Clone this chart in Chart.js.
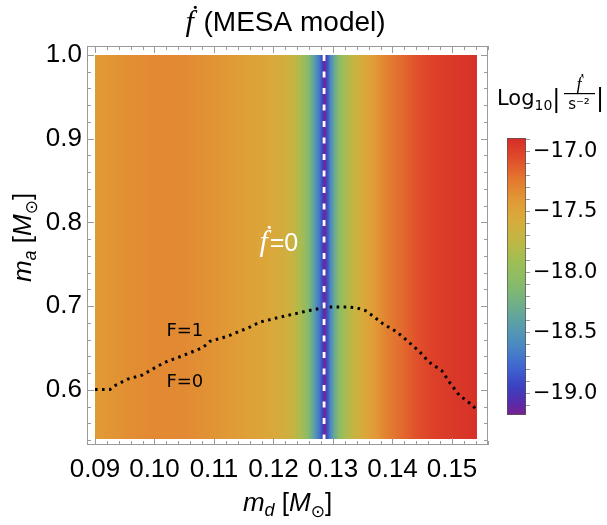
<!DOCTYPE html>
<html>
<head>
<meta charset="utf-8">
<script src="https://cdn.jsdelivr.net/npm/chart.js@4.4.1/dist/chart.umd.min.js"></script>
<style>
  html, body { margin: 0; padding: 0; background: #fff; }
  #wrap { position: relative; width: 607px; height: 525px; }
  #main { position: absolute; left: 0; top: 0; }
  #bar { position: absolute; left: 490px; top: 130px; }
</style>
</head>
<body>
<div id="wrap">
  <canvas id="main" width="607" height="525"></canvas>
  <canvas id="bar" width="117" height="300"></canvas>
</div>
<script>
// Log10|fdot| read across m_d (colour only varies with m_d)
const mdNodes = [0.0900, 0.0950, 0.1000, 0.1050, 0.1100, 0.1150, 0.1200, 0.1230, 0.1245, 0.1258,
  0.1268, 0.1277, 0.1283, 0.1286, 0.1290, 0.1296, 0.1303, 0.1311, 0.1320, 0.1335, 0.1350, 0.1370,
  0.1390, 0.1415, 0.1440, 0.1470, 0.1500, 0.1542];
const logF = [-17.42, -17.36, -17.32, -17.33, -17.38, -17.45, -17.54, -17.66, -17.85, -18.08,
  -18.40, -18.70, -18.95, -19.20, -18.90, -18.60, -18.30, -18.05, -17.88, -17.70, -17.56, -17.42,
  -17.28, -17.18, -17.08, -17.00, -16.96, -16.92];

// F=1 / F=0 boundary (dotted)
const boundaryMd = [0.0900, 0.0925, 0.0930, 0.0955, 0.0980, 0.1004, 0.1021, 0.1048, 0.1082, 0.1093, 0.1122,
  0.1160, 0.1177, 0.1211, 0.1261, 0.1290, 0.1324, 0.1340, 0.1354, 0.1366, 0.1384, 0.1408, 0.1426,
  0.1445, 0.1462, 0.1483, 0.1497, 0.1512, 0.1532, 0.1542];
const boundaryMa = [0.6005, 0.6005, 0.604, 0.613, 0.618, 0.628, 0.634, 0.641, 0.651, 0.658, 0.664,
  0.675, 0.681, 0.687, 0.695, 0.699, 0.699, 0.698, 0.695, 0.689, 0.679, 0.669, 0.658,
  0.646, 0.633, 0.623, 0.608, 0.594, 0.583, 0.576];

// fdot = 0 line
const zeroMd = 0.1285;
const maRange = [0.5415, 1.0];
const cbRange = [-19.18, -16.89];

const xTicks = [0.09, 0.10, 0.11, 0.12, 0.13, 0.14, 0.15];
const yTicks = [0.6, 0.7, 0.8, 0.9, 1.0];
const cbTicks = [-19.0, -18.5, -18.0, -17.5, -17.0];

// text annotations
const labelText = ['F=1', 'F=0'];
const labelMd = [0.1051, 0.1051];
const labelMa = [0.6705, 0.6096];
const zeroLabelAt = [0.1209, 0.7767];

// colour function (Mathematica "Rainbow"-like)
const cmap = [[0, '#7B2191'], [0.04, '#5A2AA8'], [0.10, '#3C40C0'], [0.17, '#3F64D0'], [0.25, '#4A88C4'],
  [0.33, '#5A9FA8'], [0.40, '#70AF88'], [0.47, '#86BB6B'], [0.55, '#9DBE56'], [0.62, '#BDB845'],
  [0.70, '#D7AC3C'], [0.77, '#E19B36'], [0.85, '#E3782F'], [0.93, '#E04A2A'], [1, '#D62B27']];

function hexRgb(h) {
  return [parseInt(h.slice(1, 3), 16), parseInt(h.slice(3, 5), 16), parseInt(h.slice(5, 7), 16)];
}

function colorAt(v) {
  let t = (v - cbRange[0]) / (cbRange[1] - cbRange[0]);
  t = Math.max(0, Math.min(1, t));
  for (let i = 1; i < cmap.length; i++) {
    if (t <= cmap[i][0]) {
      const a = cmap[i - 1], b = cmap[i];
      const f = (t - a[0]) / (b[0] - a[0]);
      const ca = hexRgb(a[1]), cb = hexRgb(b[1]);
      const c = ca.map((x, k) => Math.round(x + (cb[k] - x) * f));
      return `rgb(${c[0]},${c[1]},${c[2]})`;
    }
  }
  return cmap[cmap.length - 1][1];
}

function heatFill(context) {
  const chart = context.chart;
  if (!chart.chartArea) return '#e39030';
  const xs = chart.scales.x;
  const x0 = xs.getPixelForValue(mdNodes[0]);
  const x1 = xs.getPixelForValue(mdNodes[mdNodes.length - 1]);
  const g = chart.ctx.createLinearGradient(x0, 0, x1, 0);
  mdNodes.forEach((m, i) => {
    g.addColorStop((xs.getPixelForValue(m) - x0) / (x1 - x0), colorAt(logF[i]));
  });
  return g;
}

// draw a run of [text, font, dy, extraSpace] pieces starting at x, baseline y
function drawRun(ctx, parts, x, y, align) {
  let total = 0;
  parts.forEach(p => { ctx.font = p[1]; total += ctx.measureText(p[0]).width + (p[3] || 0); });
  let cx = align === 'center' ? x - total / 2 : x;
  parts.forEach(p => {
    ctx.font = p[1];
    ctx.fillText(p[0], cx, y + (p[2] || 0));
    cx += ctx.measureText(p[0]).width + (p[3] || 0);
  });
}

const SANS = "'Liberation Sans', Arial, sans-serif";
const DJ = "'DejaVu Sans', sans-serif";
const SERIF = "'Liberation Serif', serif";

const framePlugin = {
  id: 'frame',
  afterDatasetsDraw(chart) {
    const { ctx, chartArea: a, scales: { x, y } } = chart;
    ctx.save();
    ctx.strokeStyle = '#9a9a9a';
    ctx.lineWidth = 1;
    ctx.strokeRect(a.left + 0.5, a.top + 0.5, a.right - a.left - 1, a.bottom - a.top - 1);
    ctx.beginPath();
    for (let i = 0; i <= 33; i++) {
      const v = 0.09 + i * 0.002;
      const px = Math.round(x.getPixelForValue(v)) + 0.5;
      const len = i % 5 === 0 ? 7 : 4;
      ctx.moveTo(px, a.bottom); ctx.lineTo(px, a.bottom - len);
      ctx.moveTo(px, a.top); ctx.lineTo(px, a.top + len);
    }
    for (let i = 0; i <= 23; i++) {
      const v = 0.54 + i * 0.02;
      const py = Math.round(y.getPixelForValue(v)) + 0.5;
      const len = i % 5 === 3 ? 7 : 4;
      ctx.moveTo(a.left, py); ctx.lineTo(a.left + len, py);
      ctx.moveTo(a.right, py); ctx.lineTo(a.right - len, py);
    }
    ctx.stroke();

    // region labels
    ctx.fillStyle = '#000';
    ctx.textBaseline = 'middle';
    ctx.textAlign = 'center';
    ctx.font = `18px ${DJ}`;
    labelText.forEach((t, i) => {
      ctx.fillText(t, x.getPixelForValue(labelMd[i]), y.getPixelForValue(labelMa[i]));
    });

    // fdot = 0 label
    ctx.fillStyle = '#fff';
    ctx.textAlign = 'left';
    ctx.textBaseline = 'alphabetic';
    drawRun(ctx, [['ḟ', `italic 30px ${SERIF}`, 0, 2], ['=0', `25px ${SANS}`]],
      x.getPixelForValue(zeroLabelAt[0]), y.getPixelForValue(zeroLabelAt[1]) + 9, 'center');

    // title
    ctx.fillStyle = '#000';
    const cx = (a.left + a.right) / 2;
    drawRun(ctx, [['ḟ', `italic 30px ${SERIF}`, 0, 2], [' (MESA model)', `28px ${SANS}`]], cx - 2, 31, 'center');

    // x axis title
    drawRun(ctx, [['m', `italic 26px ${SANS}`], ['d', `italic 18px ${SANS}`, 5], [' [', `26px ${SANS}`],
      ['M', `italic 26px ${SANS}`], ['⊙', `17px ${DJ}`, 6], [']', `26px ${SANS}`]], cx, 511, 'center');

    // y axis title
    ctx.save();
    ctx.translate(31, (a.top + a.bottom) / 2 - 8);
    ctx.rotate(-Math.PI / 2);
    drawRun(ctx, [['m', `italic 26px ${SANS}`], ['a', `italic 18px ${SANS}`, 5], [' [', `26px ${SANS}`],
      ['M', `italic 26px ${SANS}`], ['⊙', `17px ${DJ}`, 6], [']', `26px ${SANS}`]], 0, 0, 'center');
    ctx.restore();

    // colour bar legend title
    drawRun(ctx, [['Log', `21px ${DJ}`], ['10', `14px ${DJ}`, 5], ['|', `24px ${DJ}`, 2]], 497, 105, 'left');
    ctx.textAlign = 'center';
    ctx.font = `italic 18px ${SERIF}`;
    ctx.fillText('ḟ', 579, 90);
    ctx.fillRect(564, 93, 31, 1.2);
    ctx.font = `15px ${DJ}`;
    ctx.fillText('s⁻²', 579, 109);
    ctx.textAlign = 'left';
    ctx.font = `24px ${DJ}`;
    ctx.fillText('|', 596, 106);
    ctx.restore();
  }
};

new Chart(document.getElementById('main'), {
  type: 'line',
  data: {
    datasets: [
      {
        data: [{ x: zeroMd, y: maRange[1] }, { x: zeroMd, y: maRange[0] }],
        borderColor: '#ffffff',
        borderWidth: 2.8,
        borderDash: [6, 10.5],
        pointRadius: 0,
        fill: false,
        order: 1
      },
      {
        data: boundaryMd.map((m, i) => ({ x: m, y: boundaryMa[i] })),
        borderColor: '#000',
        borderWidth: 3,
        borderDash: [2.6, 4.4],
        pointRadius: 0,
        fill: false,
        order: 2
      },
      {
        data: mdNodes.map(m => ({ x: m, y: maRange[1] })),
        borderWidth: 0,
        borderColor: 'rgba(0,0,0,0)',
        backgroundColor: heatFill,
        pointRadius: 0,
        fill: { value: maRange[0] },
        order: 3
      }
    ]
  },
  options: {
    responsive: false,
    animation: false,
    layout: { padding: { left: 0, top: 46, right: 119, bottom: 0 } },
    plugins: { legend: { display: false }, tooltip: { enabled: false }, title: { display: false } },
    scales: {
      x: {
        type: 'linear',
        min: 0.08866,
        max: 0.15605,
        grid: { display: false, drawTicks: false },
        border: { display: false },
        afterBuildTicks: s => { s.ticks = xTicks.map(v => ({ value: v })); },
        afterFit: s => { s.height = 80; },
        ticks: {
          color: '#000',
          font: { family: SANS, size: 26 },
          padding: 9,
          maxRotation: 0,
          autoSkip: false,
          callback: v => v.toFixed(2)
        }
      },
      y: {
        min: 0.5343,
        max: 1.0107,
        grid: { display: false, drawTicks: false },
        border: { display: false },
        afterBuildTicks: s => { s.ticks = yTicks.map(v => ({ value: v })); },
        afterFit: s => { s.width = 87; },
        ticks: {
          color: '#000',
          font: { family: SANS, size: 26 },
          padding: 5,
          autoSkip: false,
          callback: v => v.toFixed(1)
        }
      }
    }
  },
  plugins: [framePlugin]
});

// colour bar
new Chart(document.getElementById('bar'), {
  type: 'bar',
  data: {
    labels: [''],
    datasets: [{
      data: [cbRange],
      backgroundColor: context => {
        const chart = context.chart;
        if (!chart.chartArea) return '#888';
        const ys = chart.scales.y;
        const yb = ys.getPixelForValue(cbRange[0]);
        const yt = ys.getPixelForValue(cbRange[1]);
        const g = chart.ctx.createLinearGradient(0, yb, 0, yt);
        cmap.forEach(s => g.addColorStop(s[0], s[1]));
        return g;
      },
      borderColor: '#555',
      borderWidth: 1,
      borderSkipped: false,
      barPercentage: 1,
      categoryPercentage: 1
    }]
  },
  options: {
    responsive: false,
    animation: false,
    layout: { padding: { left: 17, top: 8, right: 0, bottom: 15 } },
    plugins: { legend: { display: false }, tooltip: { enabled: false } },
    scales: {
      x: { display: false },
      y: {
        position: 'right',
        min: cbRange[0],
        max: cbRange[1],
        border: { display: false },
        grid: { drawOnChartArea: false, tickLength: 4, color: '#999' },
        afterBuildTicks: s => {
          const t = [];
          for (let i = -191; i <= -169; i++) t.push({ value: i / 10 });
          s.ticks = t;
        },
        afterFit: s => { s.width = 81; s.paddingTop = 0; s.paddingBottom = 0; },
        ticks: {
          color: '#000',
          font: { family: 'DejaVu Sans', size: 21 },
          padding: 3,
          autoSkip: false,
          callback: v => cbTicks.some(c => Math.abs(c - v) < 1e-6) ? '\u2212' + Math.abs(v).toFixed(1) : ''
        }
      }
    }
  }
});
</script>
</body>
</html>
